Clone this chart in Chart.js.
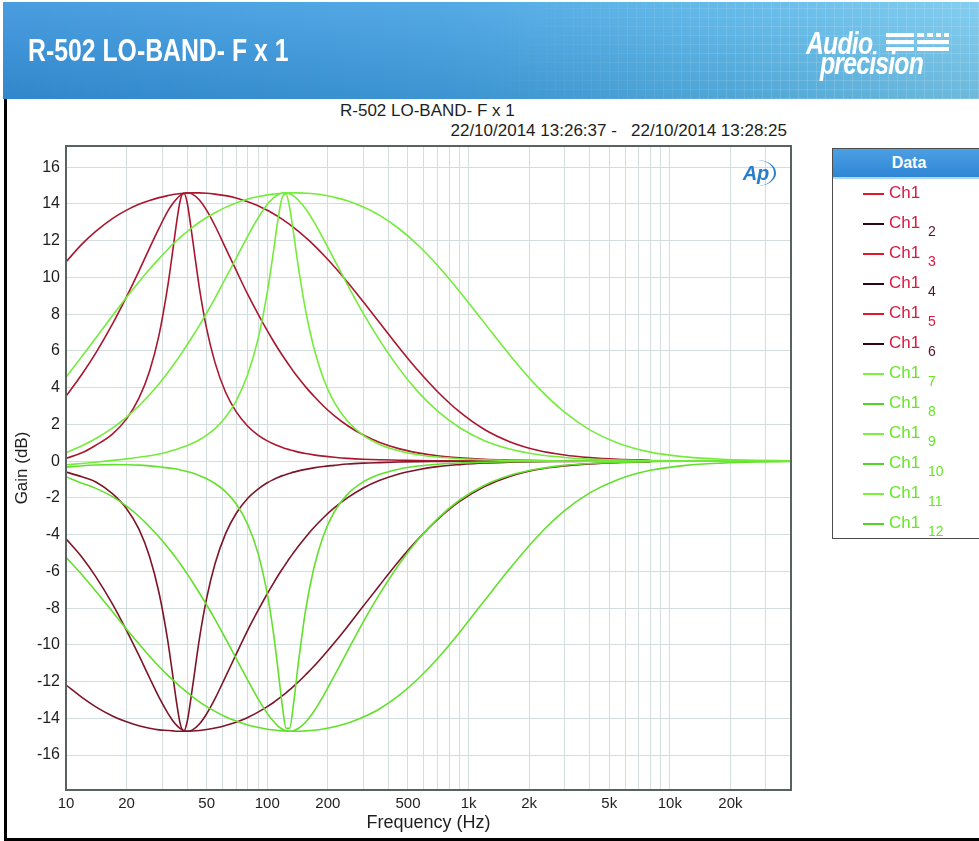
<!DOCTYPE html>
<html lang="en">
<head>
<meta charset="UTF-8">
<title>R-502 LO-BAND- F x 1</title>
<script src="https://cdn.jsdelivr.net/npm/chart.js@4.4.0/dist/chart.umd.min.js"></script>
<style>
  body { margin: 0; width: 979px; height: 841px; position: relative; overflow: hidden; background: #fff;
         font-family: "Liberation Sans", Arial, sans-serif; }
  #banner { position: absolute; left: 3px; top: 2px; width: 976px; height: 97px;
            background: linear-gradient(180deg, rgba(255,255,255,.10), rgba(0,0,0,.08)),
                        linear-gradient(90deg, #3592dc 0%, #41a0e2 45%, #55b4e8 75%, #76c9ef 100%); }
  #bannerGrid { position: absolute; left: 480px; top: 0; width: 496px; height: 97px;
            background: repeating-linear-gradient(90deg, rgba(255,255,255,.13) 0 1px, transparent 1px 9px),
                        repeating-linear-gradient(0deg, rgba(255,255,255,.13) 0 1px, transparent 1px 9px);
            -webkit-mask-image: linear-gradient(90deg, transparent, #000 60%); }
  #bannerTitle { position: absolute; left: 25px; top: 31px; color: #fff; font-weight: bold; font-size: 31px;
            transform: scaleX(0.8); transform-origin: left top; white-space: nowrap; }
  .logo { position: absolute; color: #fff; font-style: italic; font-weight: bold; white-space: nowrap;
          transform-origin: left top; }
  #logoA { left: 806px; top: 26px; font-size: 31px; transform: scaleX(0.8); letter-spacing: -1px; }
  #logoP { left: 820px; top: 46px; font-size: 31px; transform: scaleX(0.8); letter-spacing: -1px; }
  .bar { position: absolute; background: #fff; height: 4px; }
  #frameL { position: absolute; left: 4px; top: 99px; width: 3px; height: 742px; background: #000; }
  #frameB { position: absolute; left: 4px; top: 838px; width: 975px; height: 3px; background: #000; }
  .ctext { position: absolute; color: #1e1e1e; font-size: 17px; white-space: nowrap; }
  #wrap { position: absolute; left: 0; top: 140px; width: 800px; height: 700px; }
  #apmark { position: absolute; left: 738px; top: 160px; width: 36px; height: 26px; color: #2a7ccc;
            font-style: italic; font-weight: bold; font-size: 20px; line-height: 26px; text-align: center;
            border-right: 2px solid #2a7ccc; border-radius: 50%; }
  #legend { position: absolute; left: 832px; top: 148px; width: 152px; height: 389px;
            border: 1px solid #4d4d4d; background: #fff; }
  #legend .head { height: 28px; background: linear-gradient(180deg, #4c9fe2, #2f86d6); color: #fff;
            font-weight: bold; font-size: 16px; line-height: 28px; text-align: center;
            border-bottom: 2px solid #a8d8f4; }
  #legend .row { position: absolute; left: 0; height: 30px; width: 150px; }
  #legend .swatch { position: absolute; left: 30px; top: 14px; width: 21px; height: 2px; }
  #legend .lbl { position: absolute; left: 56px; top: 4px; font-size: 17px; }
  #legend .sub { position: absolute; left: 95px; top: 14px; font-size: 14px; }
</style>
</head>
<body>

<div id="banner">
  <div id="bannerGrid"></div>
  <div id="bannerTitle">R-502 LO-BAND- F x 1</div>
</div>
<div class="logo" id="logoA">Audio</div>
<div class="logo" id="logoP">precision</div>
<div class="bar" style="left:886px;top:33px;width:28px"></div>
<div class="bar" style="left:886px;top:40px;width:28px"></div>
<div class="bar" style="left:886px;top:47px;width:28px"></div>
<div class="bar" style="left:917px;top:33px;width:7px"></div>
<div class="bar" style="left:927px;top:33px;width:6px"></div>
<div class="bar" style="left:936px;top:33px;width:5px"></div>
<div class="bar" style="left:944px;top:33px;width:5px"></div>
<div class="bar" style="left:917px;top:40px;width:32px"></div>
<div class="bar" style="left:917px;top:47px;width:32px"></div>

<div id="frameL"></div>
<div id="frameB"></div>

<div class="ctext" style="left:340px;top:101px">R-502 LO-BAND- F x 1</div>
<div class="ctext" style="right:192px;top:121px">22/10/2014 13:26:37 -&nbsp;&nbsp; 22/10/2014 13:28:25</div>

<div id="wrap"><canvas id="gainChart" width="800" height="700"></canvas></div>
<div id="apmark">Ap</div>

<div id="legend"><div class="head">Data</div></div>

<script>
// sweep frequencies (Hz), shared by every trace
var freqs = [10, 12, 14, 17, 20, 23, 26, 29, 32, 34, 35.5, 37, 38.5, 40, 42.5, 46, 50, 55, 62, 70,
             80, 90, 100, 107, 113, 119, 124, 129, 135, 143, 155, 170, 190, 215, 250, 300, 360, 450, 560, 700,
             900, 1200, 1600, 2200, 3000, 4000, 5500, 8000, 12000, 18000, 27000, 40000];

// gain (dB) per sweep; the red sweeps stop near 8 kHz
var ch1 = [10.84, 11.81, 12.49, 13.2, 13.66, 13.98, 14.19, 14.34, 14.45, 14.51, 14.54, 14.56, 14.58, 14.59, 14.6, 14.6, 14.58, 14.53, 14.45, 14.32,
           14.12, 13.9, 13.65, 13.47, 13.32, 13.16, 13.02, 12.89, 12.72, 12.5, 12.17, 11.77, 11.23, 10.59, 9.75, 8.67, 7.56, 6.2, 4.94, 3.79,
           2.69, 1.72, 1.06, 0.59, 0.33, 0.19, 0.1, 0.05, null, null, null, null];
var ch2 = [-12.19, -12.86, -13.36, -13.87, -14.19, -14.4, -14.54, -14.63, -14.66, -14.68, -14.7, -14.7, -14.7, -14.7, -14.69, -14.66, -14.61, -14.53, -14.39, -14.21,
           -13.95, -13.66, -13.36, -13.15, -12.96, -12.77, -12.61, -12.45, -12.26, -12.01, -11.63, -11.18, -10.59, -9.9, -9.01, -7.89, -6.78, -5.45, -4.26, -3.19,
           -2.21, -1.39, -0.84, -0.46, -0.26, -0.15, -0.08, -0.04, null, null, null, null];
var ch3 = [3.53, 4.73, 5.85, 7.45, 8.95, 10.33, 11.59, 12.68, 13.59, 14.03, 14.28, 14.46, 14.56, 14.6, 14.53, 14.21, 13.65, 12.81, 11.61, 10.39,
           9.07, 8.0, 7.1, 6.55, 6.13, 5.75, 5.46, 5.19, 4.88, 4.52, 4.04, 3.55, 3.0, 2.48, 1.94, 1.42, 1.03, 0.68, 0.45, 0.29,
           0.18, 0.1, 0.06, 0.03, 0.02, 0.01, 0.01, 0.0, null, null, null, null];
var ch4 = [-4.23, -5.23, -6.26, -7.77, -9.22, -10.56, -11.79, -12.86, -13.7, -14.14, -14.38, -14.56, -14.66, -14.7, -14.63, -14.31, -13.75, -12.93, -11.74, -10.52,
           -9.2, -8.13, -7.22, -6.67, -6.24, -5.86, -5.57, -5.29, -4.99, -4.62, -4.14, -3.63, -3.08, -2.55, -2.0, -1.46, -1.06, -0.7, -0.47, -0.3,
           -0.19, -0.1, -0.06, -0.03, -0.02, -0.01, -0.01, 0.0, null, null, null, null];
var ch5 = [0.15, 0.45, 0.85, 1.47, 2.3, 3.41, 4.89, 6.87, 9.49, 11.54, 13.04, 14.21, 14.59, 14.06, 12.11, 9.42, 7.2, 5.36, 3.76, 2.69,
           1.9, 1.42, 1.1, 0.94, 0.83, 0.74, 0.67, 0.62, 0.56, 0.49, 0.41, 0.34, 0.27, 0.21, 0.15, 0.1, 0.07, 0.05, 0.03, 0.02,
           0.01, 0.01, 0.0, 0.0, 0.0, 0.0, 0.0, 0.0, null, null, null, null];
var ch6 = [-0.6, -0.85, -1.12, -1.77, -2.59, -3.69, -5.19, -7.18, -9.74, -11.75, -13.2, -14.33, -14.69, -14.18, -12.31, -9.67, -7.46, -5.59, -3.96, -2.85,
           -2.02, -1.52, -1.18, -1.01, -0.89, -0.79, -0.73, -0.67, -0.6, -0.53, -0.45, -0.37, -0.29, -0.23, -0.16, -0.11, -0.08, -0.05, -0.03, -0.02,
           -0.01, -0.01, 0.0, 0.0, 0.0, 0.0, 0.0, 0.0, null, null, null, null];
var ch7 = [4.56, 5.7, 6.67, 7.91, 8.92, 9.75, 10.44, 11.02, 11.52, 11.82, 12.0, 12.18, 12.35, 12.49, 12.72, 13.0, 13.26, 13.52, 13.81, 14.05,
           14.26, 14.39, 14.49, 14.53, 14.56, 14.58, 14.59, 14.6, 14.6, 14.6, 14.58, 14.55, 14.48, 14.36, 14.17, 13.83, 13.39, 12.66, 11.76, 10.66,
           9.25, 7.51, 5.78, 4.04, 2.66, 1.7, 0.99, 0.49, 0.23, 0.1, 0.05, 0.02];
var ch8 = [-5.23, -6.18, -7.05, -8.19, -9.15, -9.94, -10.62, -11.18, -11.65, -11.91, -12.1, -12.28, -12.44, -12.59, -12.82, -13.1, -13.36, -13.62, -13.91, -14.15,
           -14.36, -14.49, -14.59, -14.63, -14.66, -14.68, -14.69, -14.7, -14.7, -14.7, -14.68, -14.65, -14.58, -14.46, -14.27, -13.93, -13.49, -12.76, -11.86, -10.76,
           -9.34, -7.59, -5.86, -4.1, -2.7, -1.73, -1.01, -0.5, -0.23, -0.11, -0.05, -0.02];
var ch9 = [0.45, 0.84, 1.22, 1.8, 2.4, 3.0, 3.61, 4.21, 4.81, 5.21, 5.49, 5.77, 6.06, 6.33, 6.78, 7.39, 8.06, 8.87, 9.94, 11.04,
           12.25, 13.23, 13.97, 14.31, 14.5, 14.59, 14.6, 14.55, 14.44, 14.2, 13.73, 13.05, 12.1, 10.97, 9.61, 8.04, 6.61, 5.06, 3.78, 2.73,
           1.83, 1.11, 0.66, 0.36, 0.2, 0.11, 0.06, 0.03, 0.01, 0.01, 0.0, 0.0];
var ch10 = [-0.85, -1.2, -1.47, -1.93, -2.45, -3.0, -3.57, -4.13, -4.69, -5.05, -5.32, -5.6, -5.87, -6.14, -6.58, -7.18, -7.83, -8.61, -9.65, -10.73,
            -11.93, -12.94, -13.73, -14.15, -14.42, -14.59, -14.67, -14.7, -14.67, -14.54, -14.21, -13.64, -12.78, -11.7, -10.35, -8.75, -7.27, -5.64, -4.28, -3.14,
            -2.13, -1.31, -0.78, -0.43, -0.23, -0.13, -0.07, -0.03, -0.01, -0.01, 0.0, 0.0];
var ch11 = [-0.2, -0.13, -0.06, 0.04, 0.12, 0.21, 0.29, 0.39, 0.5, 0.59, 0.65, 0.71, 0.78, 0.85, 0.97, 1.16, 1.41, 1.77, 2.39, 3.27,
            4.73, 6.65, 9.18, 11.3, 13.14, 14.4, 14.54, 13.83, 12.42, 10.5, 8.2, 6.21, 4.5, 3.21, 2.18, 1.4, 0.92, 0.56, 0.35, 0.22,
            0.13, 0.07, 0.04, 0.02, 0.01, 0.0, 0.0, 0.0, 0.0, 0.0, 0.0, 0.0];
var ch12 = [-0.33, -0.25, -0.21, -0.19, -0.2, -0.22, -0.26, -0.31, -0.37, -0.4, -0.43, -0.48, -0.52, -0.57, -0.65, -0.79, -0.96, -1.22, -1.66, -2.32,
            -3.45, -5.02, -7.23, -9.25, -11.32, -13.38, -14.54, -14.54, -13.21, -10.91, -8.12, -5.87, -4.06, -2.77, -1.81, -1.13, -0.73, -0.44, -0.27, -0.17,
            -0.1, -0.06, -0.03, -0.02, -0.01, 0.0, 0.0, 0.0, 0.0, 0.0, 0.0, 0.0];

var sweeps = [ch1, ch2, ch3, ch4, ch5, ch6, ch7, ch8, ch9, ch10, ch11, ch12];
var sweepSubs = ['', '2', '3', '4', '5', '6', '7', '8', '9', '10', '11', '12'];
var lineColors = ['#a8172f', '#7e1427', '#a8172f', '#7e1427', '#a8172f', '#7e1427',
                  '#74ec3c', '#62e02c', '#74ec3c', '#62e02c', '#74ec3c', '#62e02c'];
var legendColors = ['#e0182e', '#2a0a12', '#e0182e', '#2a0a12', '#e0182e', '#2a0a12',
                    '#7cf03e', '#52d424', '#7cf03e', '#52d424', '#7cf03e', '#52d424'];

// axis ticks
var yTicks = [-16, -14, -12, -10, -8, -6, -4, -2, 0, 2, 4, 6, 8, 10, 12, 14, 16];
var xGrid = [10, 20, 30, 40, 50, 60, 70, 80, 90, 100, 200, 300, 400, 500, 600, 700, 800, 900,
             1000, 2000, 3000, 4000, 5000, 6000, 7000, 8000, 9000, 10000, 20000, 30000, 40000];
var xLabelVals = [10, 20, 50, 100, 200, 500, 1000, 2000, 5000, 10000, 20000];
var xLabelText = ['10', '20', '50', '100', '200', '500', '1k', '2k', '5k', '10k', '20k'];

Chart.defaults.font.family = '"Liberation Sans", Arial, sans-serif';
Chart.defaults.color = '#1e1e1e';

var datasets = sweeps.map(function (g, k) {
  var pts = [];
  for (var i = 0; i < freqs.length; i++) {
    if (g[i] !== null) pts.push({ x: freqs[i], y: g[i] });
  }
  return {
    label: 'Ch1 ' + sweepSubs[k],
    data: pts,
    borderColor: lineColors[k],
    borderWidth: 1.6,
    pointRadius: 0,
    fill: false,
    cubicInterpolationMode: 'monotone',
    order: k < 6 ? 1 : 0
  };
});

// dark frame round the plot area (top and right sides too)
var plotFrame = {
  id: 'plotFrame',
  afterDraw: function (chart) {
    var a = chart.chartArea, c = chart.ctx;
    c.save();
    c.strokeStyle = '#58625f';
    c.lineWidth = 2;
    c.strokeRect(a.left, a.top, a.right - a.left, a.bottom - a.top);
    c.restore();
  }
};

new Chart(document.getElementById('gainChart').getContext('2d'), {
  type: 'line',
  data: { datasets: datasets },
  options: {
    responsive: false,
    animation: false,
    devicePixelRatio: 1,
    layout: { padding: { left: 0, right: 9, top: 6, bottom: 2 } },
    plugins: { legend: { display: false }, tooltip: { enabled: false } },
    scales: {
      x: {
        type: 'logarithmic',
        min: 10, max: 40000,
        afterBuildTicks: function (s) { s.ticks = xGrid.map(function (v) { return { value: v }; }); },
        afterFit: function (s) { s.height = 48; s.paddingLeft = 0; s.paddingRight = 0; },
        ticks: {
          autoSkip: false, maxRotation: 0, padding: 5, font: { size: 15 },
          callback: function (v) { var i = xLabelVals.indexOf(v); return i < 0 ? '' : xLabelText[i]; }
        },
        grid: { color: '#d3dddd', drawTicks: false },
        border: { color: '#58625f', width: 2 },
        title: { display: true, text: 'Frequency (Hz)', font: { size: 18 }, padding: { top: 0, bottom: 4 } }
      },
      y: {
        min: -17.9, max: 17.15,
        afterBuildTicks: function (s) { s.ticks = yTicks.map(function (v) { return { value: v }; }); },
        afterFit: function (s) { s.width = 66; s.paddingTop = 0; s.paddingBottom = 0; },
        ticks: { padding: 6, font: { size: 16 }, callback: function (v) { return String(v); } },
        grid: { color: '#d3dddd', drawTicks: false },
        border: { color: '#58625f', width: 2 },
        title: { display: true, text: 'Gain (dB)', font: { size: 17 }, padding: { top: 12, bottom: 0 } }
      }
    }
  },
  plugins: [plotFrame]
});

// legend box on the right
var legend = document.getElementById('legend');
sweeps.forEach(function (g, k) {
  var row = document.createElement('div');
  row.className = 'row';
  row.style.top = (30 + k * 30) + 'px';
  var red = k < 6;
  var textColor = red ? '#dc1640' : '#66e626';
  var subColor = red ? (k % 2 ? '#5a1226' : '#dc1640') : '#66e626';
  var html = '<div class="swatch" style="background:' + legendColors[k] + '"></div>' +
             '<div class="lbl" style="color:' + textColor + '">Ch1</div>';
  if (sweepSubs[k]) html += '<div class="sub" style="color:' + subColor + '">' + sweepSubs[k] + '</div>';
  row.innerHTML = html;
  legend.appendChild(row);
});
</script>
</body>
</html>
